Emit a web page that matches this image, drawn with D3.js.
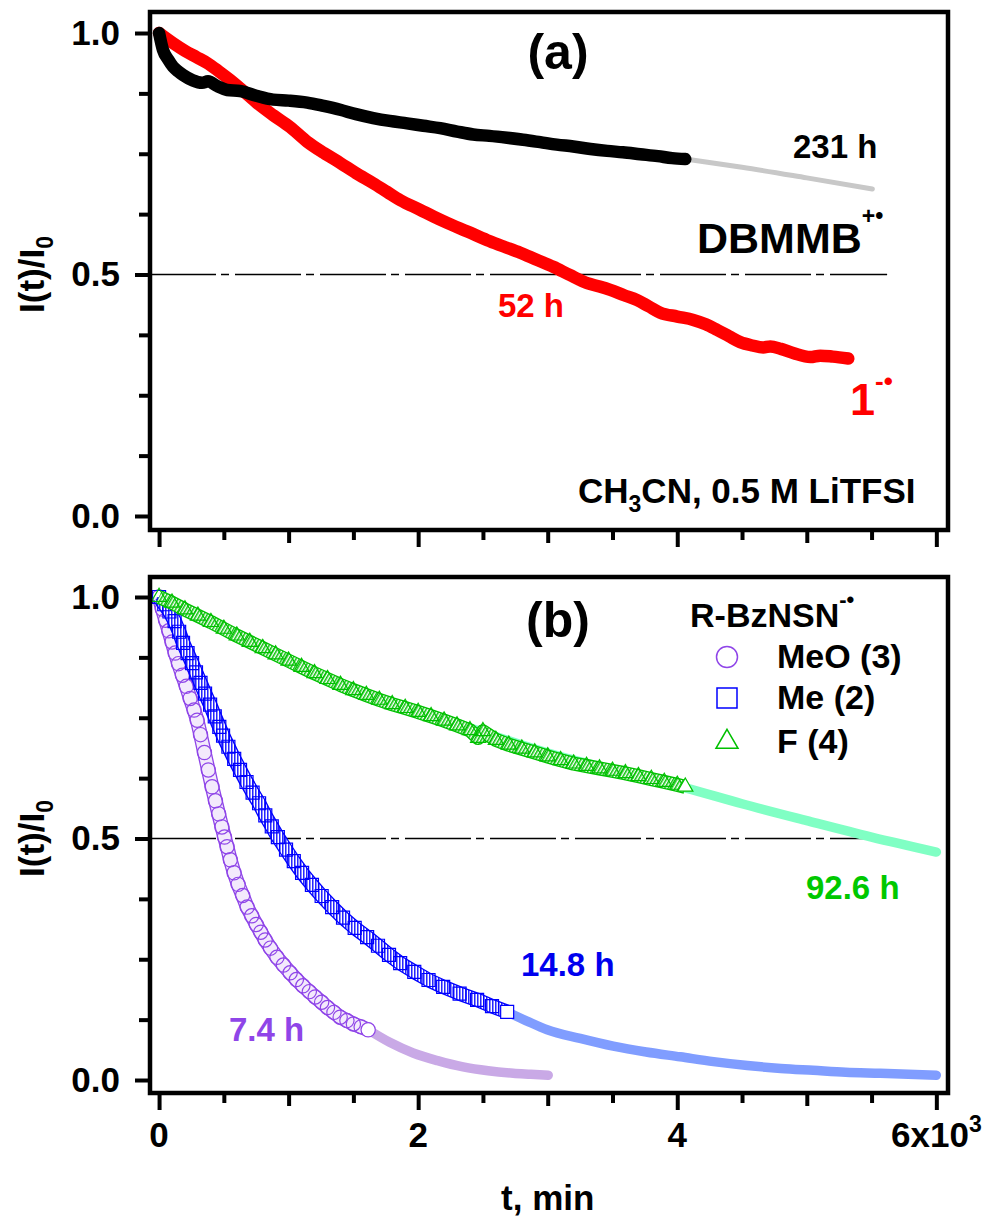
<!DOCTYPE html>
<html>
<head>
<meta charset="utf-8">
<script src="https://cdn.jsdelivr.net/npm/d3@7"></script>
<style>
  body { margin: 0; background: #fff; }
  svg text { font-family: "Liberation Sans", Arial, sans-serif; font-weight: bold; }
</style>
</head>
<body>
<svg id="chart" width="985" height="1224"></svg>
<script>
// ---- data: [t (min), I(t)/I0] ----
var tTicks = d3.range(0, 6001, 500);
var tLabels = { 0: "0", 2000: "2", 4000: "4" };
var yTicks = d3.range(0, 1.0001, 0.125);
var yLabels = { 0: "0.0", 0.5: "0.5", 1: "1.0" };
var halfLevel = 0.5;
var halfSpan = [-70, 5620];

// panel (a)
var dbmmbData = [[0,1.000],[30,0.965],[70,0.945],[108,0.930],[150,0.920],[185,0.913],[260,0.902],[332,0.897],[378,0.900],[450,0.890],[525,0.882],[625,0.880],[750,0.870],[880,0.862],[1000,0.860],[1143,0.856],[1270,0.849],[1398,0.841],[1520,0.832],[1653,0.824],[1780,0.818],[1915,0.813],[2040,0.808],[2170,0.803],[2300,0.796],[2425,0.790],[2550,0.787],[2687,0.783],[2810,0.779],[2942,0.774],[3070,0.769],[3197,0.765],[3330,0.760],[3459,0.756],[3580,0.753],[3714,0.749],[3850,0.745],[3960,0.741],[4062,0.739]];
var dbmmbFit = [[4062,0.739],[4500,0.722],[5000,0.700],[5506,0.677]];
var radical1Data = [[0,1.000],[50,0.990],[108,0.979],[200,0.963],[290,0.950],[371,0.938],[460,0.921],[548,0.903],[650,0.880],[757,0.855],[880,0.830],[1012,0.805],[1143,0.775],[1270,0.752],[1398,0.731],[1520,0.710],[1653,0.689],[1760,0.671],[1861,0.654],[2015,0.634],[2120,0.620],[2224,0.607],[2380,0.589],[2533,0.571],[2660,0.558],[2788,0.545],[2910,0.531],[3042,0.516],[3170,0.499],[3305,0.482],[3400,0.475],[3483,0.468],[3590,0.457],[3691,0.447],[3780,0.434],[3869,0.421],[4000,0.413],[4124,0.406],[4220,0.397],[4309,0.385],[4400,0.372],[4486,0.360],[4580,0.353],[4664,0.349],[4718,0.351],[4800,0.346],[4900,0.337],[5027,0.329],[5104,0.332],[5200,0.330],[5320,0.326]];

// panel (b)
var meoData = [[0,1.000],[25,0.975],[50,0.952],[75,0.930],[100,0.907],[124,0.884],[150,0.862],[180,0.838],[210,0.815],[240,0.790],[270,0.766],[294,0.745],[320,0.715],[350,0.678],[380,0.642],[409,0.607],[435,0.578],[460,0.551],[485,0.524],[505,0.503],[525,0.483],[550,0.456],[579,0.429],[610,0.405],[645,0.382],[680,0.358],[715,0.340],[750,0.322],[785,0.306],[819,0.290],[860,0.273],[910,0.254],[960,0.238],[1012,0.222],[1060,0.208],[1110,0.195],[1160,0.183],[1205,0.172],[1255,0.161],[1300,0.150],[1350,0.140],[1398,0.130],[1450,0.123],[1500,0.116],[1560,0.110],[1614,0.104]];
var meoFit = [[1614,0.104],[1780,0.078],[1961,0.056],[2150,0.040],[2347,0.027],[2540,0.019],[2734,0.014],[2870,0.012],[3004,0.010]];
var meData = [[0,1.000],[40,0.985],[80,0.970],[120,0.950],[155,0.928],[185,0.905],[220,0.884],[255,0.863],[285,0.844],[320,0.822],[355,0.800],[394,0.777],[430,0.753],[465,0.731],[494,0.713],[535,0.690],[580,0.665],[625,0.642],[675,0.617],[722,0.595],[772,0.573],[820,0.548],[870,0.525],[917,0.503],[980,0.477],[1040,0.453],[1104,0.429],[1180,0.404],[1255,0.381],[1336,0.358],[1420,0.336],[1510,0.315],[1606,0.296],[1690,0.278],[1775,0.259],[1861,0.242],[1970,0.224],[2080,0.207],[2193,0.193],[2320,0.179],[2455,0.166],[2570,0.153],[2687,0.141]];
var meFit = [[2687,0.141],[2840,0.122],[2996,0.104],[3250,0.086],[3506,0.070],[3760,0.058],[4023,0.048],[4280,0.038],[4541,0.030],[4800,0.024],[5050,0.020],[5300,0.016],[5568,0.014],[6000,0.010]];
var fData = [[0,1.000],[100,0.988],[200,0.974],[300,0.961],[400,0.948],[500,0.934],[600,0.920],[700,0.907],[800,0.894],[900,0.881],[1000,0.868],[1100,0.855],[1200,0.842],[1300,0.830],[1400,0.818],[1500,0.807],[1600,0.797],[1700,0.787],[1800,0.778],[1900,0.770],[2000,0.762],[2100,0.753],[2200,0.744],[2300,0.734],[2400,0.724],[2463,0.708],[2500,0.722],[2600,0.704],[2700,0.694],[2800,0.686],[2900,0.678],[3000,0.670],[3100,0.662],[3200,0.655],[3300,0.650],[3400,0.645],[3500,0.640],[3600,0.635],[3700,0.629],[3800,0.623],[3900,0.617],[4000,0.611],[4062,0.607]];
var fFit = [[1800,0.780],[2200,0.748],[2400,0.729],[2600,0.711],[3000,0.677],[3400,0.649],[3800,0.623],[4062,0.605],[4500,0.572],[5000,0.537],[5500,0.503],[6000,0.472]];

var legendNames = ["MeO (3)", "Me (2)", "F (4)"];

var svg = d3.select("#chart");

var colMeO = "#8f45e8", colMe = "#0000ff", colF = "#00c000";

// fill patterns that stand in for the tightly packed open markers
var defs = svg.append("defs");
var hf = defs.append("pattern").attr("id", "hatchF").attr("patternUnits", "userSpaceOnUse")
    .attr("width", 3).attr("height", 3).attr("patternTransform", "rotate(30)");
hf.append("rect").attr("width", 3).attr("height", 3).attr("fill", "#fff");
hf.append("line").attr("x1", 0.8).attr("x2", 0.8).attr("y1", 0).attr("y2", 3).attr("stroke", colF).attr("stroke-width", 1.5);
var hm = defs.append("pattern").attr("id", "hatchMe").attr("patternUnits", "userSpaceOnUse")
    .attr("width", 3).attr("height", 3);
hm.append("rect").attr("width", 3).attr("height", 3).attr("fill", "#fff");
hm.append("line").attr("x1", 0.8).attr("x2", 0.8).attr("y1", 0).attr("y2", 3).attr("stroke", colMe).attr("stroke-width", 1.3);

var x = d3.scaleLinear().domain([-70, 6090]).range([150, 948]);
var yA = d3.scaleLinear().domain([-0.029, 1.0435]).range([530, 12]);
var yB = d3.scaleLinear().domain([-0.0269, 1.0414]).range([1093, 577]);

function lineFor(y) {
    return d3.line().x(function(d) { return x(d[0]) }).y(function(d) { return y(d[1]) });
}

function axes(g, y) {
    var ya = g.append("g")
        .attr("transform", "translate(" + x.range()[0] + ",0)")
        .call(d3.axisLeft(y).tickValues(yTicks).tickSize(15).tickPadding(15)
            .tickFormat(function(d) { return yLabels[d] || "" }));
    ya.attr("font-size", 35).attr("font-family", null);
    ya.select(".domain").remove();
    ya.selectAll(".tick line")
        .attr("stroke", "#000").attr("stroke-width", 4)
        .attr("x2", function(d) { return yLabels[d] ? -15 : -11 });
    ya.selectAll(".tick text").attr("fill", "#000");

    var xa = g.append("g")
        .attr("transform", "translate(0," + y.range()[0] + ")")
        .call(d3.axisBottom(x).tickValues(tTicks).tickSize(16).tickFormat(function() { return "" }));
    xa.select(".domain").remove();
    xa.selectAll(".tick line")
        .attr("stroke", "#000").attr("stroke-width", 4)
        .attr("y2", function(d) { return d % 2000 === 0 ? 17 : (d % 1000 === 0 ? 13 : 10) });

    // y title
    var yt = g.append("text")
        .attr("transform", "translate(44," + (y(0) + y(1)) / 2 + ") rotate(-90)")
        .attr("text-anchor", "middle").attr("font-size", 35);
    yt.append("tspan").text("I(t)/I");
    yt.append("tspan").attr("font-size", 23).attr("dy", 9).text("0");

    // half-life reference line
    g.append("line")
        .attr("x1", x(halfSpan[0])).attr("x2", x(halfSpan[1]))
        .attr("y1", y(halfLevel)).attr("y2", y(halfLevel))
        .attr("stroke", "#000").attr("stroke-width", 1.7)
        .attr("stroke-dasharray", "66,5,8,6");
}

function frame(g, y) {
    g.append("rect")
        .attr("x", x.range()[0]).attr("y", y.range()[1])
        .attr("width", x.range()[1] - x.range()[0])
        .attr("height", y.range()[0] - y.range()[1])
        .attr("fill", "none").attr("stroke", "#000").attr("stroke-width", 4.5);
}

// dense marker run drawn as a band, then the read points on top
function band(g, data, y, color, paint, w) {
    var p = lineFor(y)(data);
    g.append("path").attr("d", p).attr("fill", "none").attr("stroke", color)
        .attr("stroke-width", w + 2.6).attr("stroke-linejoin", "round");
    g.append("path").attr("d", p).attr("fill", "none").attr("stroke", paint)
        .attr("stroke-width", w).attr("stroke-linejoin", "round");
}

function markers(g, data, y, type, size, color) {
    g.append("g").selectAll("path")
        .data(data)
        .enter().append("path")
        .attr("transform", function(d) { return "translate(" + x(d[0]) + "," + y(d[1]) + ")" })
        .attr("d", d3.symbol().type(type).size(size))
        .attr("fill", function(d, i) { return i === data.length - 1 ? "#fff" : "none" })
        .attr("stroke", color)
        .attr("stroke-width", 1.2);
}

// ---------- panel (a) ----------
var ga = svg.append("g");
axes(ga, yA);

ga.append("path").datum(dbmmbFit)
    .attr("d", lineFor(yA).curve(d3.curveMonotoneX))
    .attr("fill", "none").attr("stroke", "#c8c8c8").attr("stroke-width", 5).attr("stroke-linecap", "round");
ga.append("path").datum(radical1Data)
    .attr("d", lineFor(yA).curve(d3.curveMonotoneX))
    .attr("fill", "none").attr("stroke", "#ff0000").attr("stroke-width", 12.5)
    .attr("stroke-linecap", "round").attr("stroke-linejoin", "round");
ga.append("path").datum(dbmmbData)
    .attr("d", lineFor(yA).curve(d3.curveMonotoneX))
    .attr("fill", "none").attr("stroke", "#000").attr("stroke-width", 12.5)
    .attr("stroke-linecap", "round").attr("stroke-linejoin", "round");

frame(ga, yA);

ga.append("text").attr("x", 558).attr("y", 69).attr("text-anchor", "middle").attr("font-size", 50).text("(a)");
ga.append("text").attr("x", 793).attr("y", 158).attr("font-size", 33).text("231 h");
var db = ga.append("text").attr("x", 697).attr("y", 253).attr("font-size", 43);
db.append("tspan").text("DBMMB");
db.append("tspan").attr("font-size", 23).attr("dy", -29).text("+\u2022");
ga.append("text").attr("x", 498).attr("y", 317).attr("font-size", 33).attr("fill", "#ff0000").text("52 h");
var one = ga.append("text").attr("x", 850).attr("y", 415).attr("font-size", 45).attr("fill", "#ff0000");
one.append("tspan").text("1");
one.append("tspan").attr("font-size", 26).attr("dy", -25).text("-\u2022");
var solv = ga.append("text").attr("x", 578).attr("y", 503).attr("font-size", 35);
solv.append("tspan").text("CH");
solv.append("tspan").attr("font-size", 23).attr("dy", 9).text("3");
solv.append("tspan").attr("dy", -9).text("CN, 0.5 M LiTFSI");

// ---------- panel (b) ----------
var gb = svg.append("g");
axes(gb, yB);

gb.append("path").datum(meoFit)
    .attr("d", lineFor(yB).curve(d3.curveMonotoneX))
    .attr("fill", "none").attr("stroke", "#c9a9e6").attr("stroke-width", 9.5).attr("stroke-linecap", "round");
gb.append("path").datum(meFit)
    .attr("d", lineFor(yB).curve(d3.curveMonotoneX))
    .attr("fill", "none").attr("stroke", "#809dff").attr("stroke-width", 9.5).attr("stroke-linecap", "round");
gb.append("path").datum(fFit)
    .attr("d", lineFor(yB).curve(d3.curveMonotoneX))
    .attr("fill", "none").attr("stroke", "#80ffc4").attr("stroke-width", 9.5).attr("stroke-linecap", "round");

band(gb, meoData, yB, colMeO, "#f3eafc", 12);
markers(gb, meoData, yB, d3.symbolCircle, 160, colMeO);
band(gb, meData, yB, colMe, "url(#hatchMe)", 12);
markers(gb, meData, yB, d3.symbolSquare, 169, colMe);
band(gb, fData, yB, colF, "url(#hatchF)", 11.5);
markers(gb, fData, yB, d3.symbolTriangle, 100, colF);

frame(gb, yB);

// x tick labels
var xl = gb.append("g").attr("font-size", 35).attr("text-anchor", "middle");
tTicks.filter(function(t) { return tLabels[t] }).forEach(function(t) {
    xl.append("text").attr("x", x(t)).attr("y", 1147).text(tLabels[t]);
});
var six = xl.append("text").attr("x", x(6000)).attr("y", 1147);
six.append("tspan").text("6x10");
six.append("tspan").attr("font-size", 23).attr("dy", -15).text("3");

gb.append("text").attr("x", (x(0) + x(6000)) / 2).attr("y", 1210)
    .attr("text-anchor", "middle").attr("font-size", 35).text("t, min");

gb.append("text").attr("x", 558).attr("y", 637).attr("text-anchor", "middle").attr("font-size", 50).text("(b)");

// legend
var lg = gb.append("text").attr("x", 690).attr("y", 627).attr("font-size", 34);
lg.append("tspan").text("R-BzNSN");
lg.append("tspan").attr("font-size", 22).attr("dy", -20).text("-\u2022");

var legendTypes = [d3.symbolCircle, d3.symbolSquare, d3.symbolTriangle];
var legendSizes = [346, 400, 210];
var legendCols = [colMeO, colMe, colF];
var legendY = [657, 698, 742];
legendNames.forEach(function(name, i) {
    gb.append("path")
        .attr("transform", "translate(727," + legendY[i] + ")")
        .attr("d", d3.symbol().type(legendTypes[i]).size(legendSizes[i]))
        .attr("fill", "#fff").attr("stroke", legendCols[i]).attr("stroke-width", 1.5);
    gb.append("text").attr("x", 777).attr("y", legendY[i] + 11).attr("font-size", 34).text(name);
});

gb.append("text").attr("x", 806).attr("y", 899).attr("font-size", 33).attr("fill", "#00c800").text("92.6 h");
gb.append("text").attr("x", 521).attr("y", 976).attr("font-size", 33).attr("fill", "#0000ee").text("14.8 h");
gb.append("text").attr("x", 229).attr("y", 1041).attr("font-size", 33).attr("fill", colMeO).text("7.4 h");
</script>
</body>
</html>
